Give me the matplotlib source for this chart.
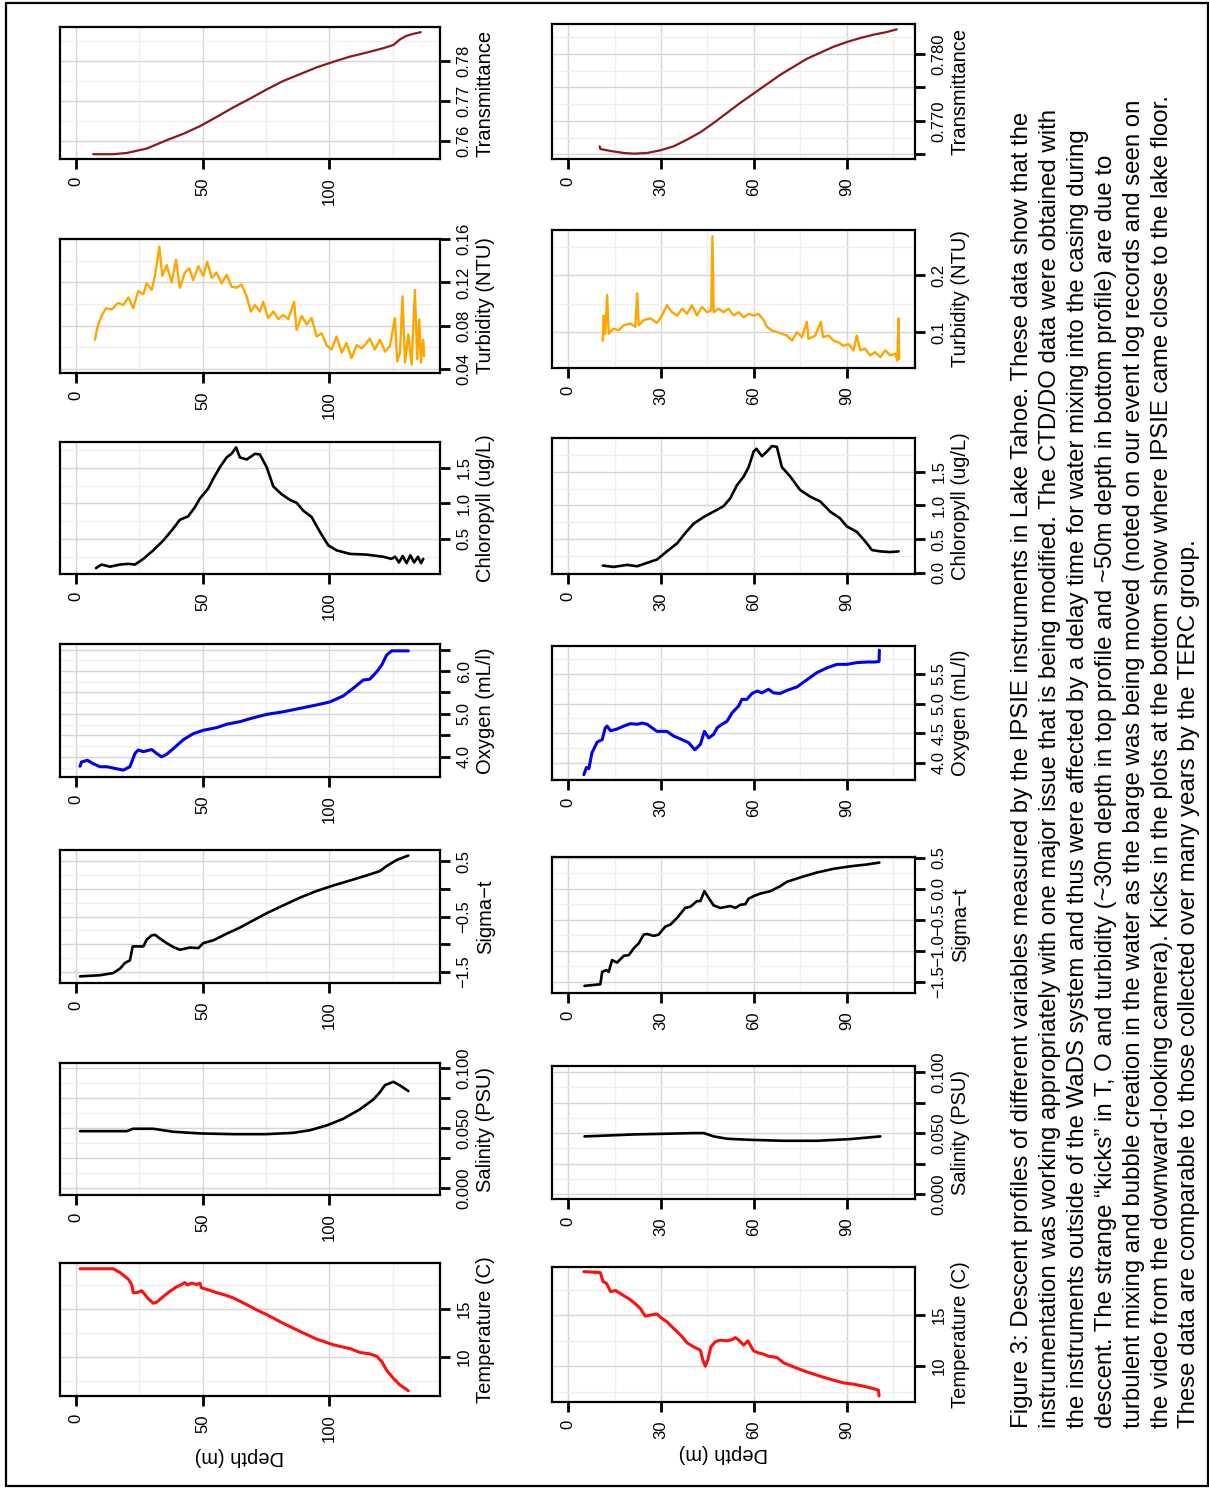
import matplotlib
matplotlib.use("Agg")
import matplotlib.pyplot as plt
import numpy as np
from matplotlib.patches import Rectangle

# ---------------- data (depth in m) ----------------
# top profile
top_temp_depth = [1.6, 14.7, 17.4, 20.7, 22.0, 22.6, 24.0, 26.0, 27.2, 28.6, 30.5, 31.8, 34.5, 37.1,
                  39.7, 41.7, 42.9, 44.1, 45.7, 47.6, 48.9, 49.6, 52.2, 55.5, 59.5, 62.1, 67.4, 71.3,
                  75.3, 81.8, 88.4, 95.0, 101.6, 108.2, 112.1, 116.0, 118.7, 120.7, 122.6, 125.3, 127.9, 131.2]
top_temp = [19.2, 19.2, 18.8, 18.1, 17.55, 16.7, 16.7, 16.9, 16.5, 16.05, 15.6, 15.7, 16.3, 16.85,
            17.3, 17.55, 17.75, 17.5, 17.7, 17.55, 17.7, 17.2, 17.0, 16.7, 16.4, 16.15, 15.45, 14.9,
            14.4, 13.5, 12.65, 11.85, 11.25, 10.85, 10.45, 10.3, 10.05, 9.5, 8.6, 7.75, 7.05, 6.45]

top_sal_depth = [1.6, 20.0, 22.6, 30.5, 38.4, 49.0, 62.0, 75.0, 85.8, 92.4, 99.0, 105.5, 112.0,
                 117.4, 120.0, 122.0, 125.3, 127.9, 131.2]
top_sal = [0.0472, 0.0472, 0.0492, 0.0492, 0.0467, 0.0453, 0.0447, 0.0447, 0.0458, 0.048, 0.052,
           0.0575, 0.0653, 0.0736, 0.0797, 0.0856, 0.0883, 0.0853, 0.0806]

top_sigma_depth = [1.6, 9.5, 14.7, 17.4, 19.3, 21.3, 22.4, 24.0, 26.6, 27.9, 29.9, 31.2, 33.2, 35.8,
                   38.4, 41.0, 43.0, 45.0, 48.3, 50.3, 54.2, 59.5, 64.7, 70.0, 75.3, 81.8, 88.4, 95.0,
                   101.6, 108.2, 114.7, 120.0, 122.6, 126.6, 131.2]
top_sigma = [-1.58, -1.56, -1.52, -1.44, -1.34, -1.29, -1.04, -1.04, -1.04, -0.92, -0.84, -0.83, -0.90,
             -0.98, -1.05, -1.10, -1.08, -1.06, -1.07, -0.98, -0.93, -0.81, -0.70, -0.57, -0.44, -0.30,
             -0.16, -0.04, 0.06, 0.15, 0.24, 0.32, 0.41, 0.52, 0.60]

top_oxy_depth = [1.6, 2.2, 4.5, 6.8, 9.5, 12.1, 15.4, 18.7, 21.3, 23.3, 24.6, 26.6, 29.9, 31.8, 33.8,
                 35.8, 38.4, 42.4, 46.3, 50.3, 55.5, 59.5, 64.7, 70.0, 75.3, 81.8, 88.4, 95.0, 100.3,
                 105.5, 109.5, 113.4, 116.0, 118.7, 120.7, 122.6, 124.6, 127.9, 131.2]
top_oxy = [3.78, 3.88, 3.92, 3.84, 3.77, 3.77, 3.73, 3.69, 3.77, 4.08, 4.16, 4.12, 4.17, 4.08, 4.00,
           4.06, 4.19, 4.40, 4.54, 4.62, 4.68, 4.76, 4.82, 4.91, 4.99, 5.05, 5.13, 5.21, 5.28, 5.42,
           5.60, 5.79, 5.81, 5.98, 6.14, 6.37, 6.47, 6.47, 6.47]

top_chl_depth = [7.9, 10.1, 13.4, 17.4, 20.7, 23.3, 26.6, 30.5, 34.5, 37.8, 41.0, 44.3, 47.0, 48.9,
                 52.2, 54.2, 56.8, 59.5, 61.4, 63.2, 64.7, 67.4, 70.7, 72.6, 75.3, 77.9, 81.2, 84.5,
                 87.1, 89.7, 93.0, 96.3, 99.6, 102.9, 108.2, 114.7, 121.3, 124.5, 126.0, 127.5, 129.0,
                 130.5, 132.0, 133.5, 135.0, 136.2, 137.1]
top_chl = [0.09, 0.14, 0.11, 0.14, 0.15, 0.14, 0.22, 0.34, 0.48, 0.62, 0.77, 0.82, 0.95, 1.07, 1.21,
           1.35, 1.51, 1.65, 1.70, 1.79, 1.65, 1.62, 1.70, 1.69, 1.51, 1.24, 1.13, 1.05, 1.01, 0.90,
           0.81, 0.60, 0.41, 0.34, 0.29, 0.28, 0.25, 0.22, 0.25, 0.17, 0.26, 0.16, 0.27, 0.17, 0.25,
           0.16, 0.22]

top_turb_depth = [7.5, 8.4, 10.1, 11.8, 14.1, 16.7, 18.7, 20.7, 22.6, 24.6, 26.6, 27.9, 29.9, 31.2,
                  32.9, 34.1, 35.8, 37.8, 39.5, 41.0, 43.0, 44.7, 46.3, 48.3, 50.3, 51.8, 53.6, 55.5,
                  57.5, 59.5, 61.4, 63.4, 65.4, 67.4, 69.0, 70.7, 72.6, 73.9, 75.9, 77.9, 79.9, 81.8,
                  83.8, 86.1, 87.1, 89.1, 91.1, 93.0, 95.0, 97.0, 98.9, 100.9, 102.9, 104.9, 106.8,
                  108.8, 110.8, 112.8, 114.7, 116.0, 118.0, 120.0, 122.0, 123.9, 125.9, 126.8, 127.9,
                  128.9, 129.9, 131.2, 132.5, 133.8, 134.7, 135.5, 136.2, 137.1, 137.4]
top_turb = [0.067, 0.078, 0.089, 0.096, 0.095, 0.101, 0.099, 0.106, 0.096, 0.112, 0.109, 0.119, 0.113,
            0.126, 0.153, 0.126, 0.136, 0.120, 0.141, 0.115, 0.129, 0.133, 0.122, 0.135, 0.126, 0.139,
            0.124, 0.129, 0.119, 0.127, 0.116, 0.115, 0.118, 0.107, 0.093, 0.099, 0.093, 0.102, 0.087,
            0.093, 0.086, 0.090, 0.086, 0.102, 0.076, 0.089, 0.081, 0.087, 0.070, 0.073, 0.062, 0.058,
            0.070, 0.055, 0.064, 0.050, 0.062, 0.059, 0.064, 0.068, 0.058, 0.067, 0.056, 0.061, 0.087,
            0.047, 0.055, 0.107, 0.046, 0.072, 0.044, 0.113, 0.049, 0.086, 0.046, 0.067, 0.052]

top_trans_depth = [6.8, 14.7, 20.0, 27.9, 35.8, 42.4, 48.9, 55.5, 62.1, 68.7, 75.3, 81.8, 88.4, 95.0,
                   101.6, 108.2, 114.7, 121.3, 125.3, 127.9, 130.5, 133.2, 136.1]
top_trans = [0.7567, 0.7567, 0.7570, 0.7581, 0.7602, 0.7618, 0.7637, 0.7660, 0.7684, 0.7706, 0.7729,
             0.7750, 0.7767, 0.7784, 0.7798, 0.7811, 0.7821, 0.7832, 0.7840, 0.7854, 0.7863, 0.7868, 0.7872]

# bottom profile
bot_temp_depth = [5.1, 10.4, 11.3, 12.4, 13.7, 15.3, 16.9, 18.5, 20.1, 21.7, 23.3, 24.9, 26.6, 28.7,
                  30.3, 31.9, 33.5, 35.2, 36.8, 38.4, 40.5, 42.7, 43.5, 44.3, 45.1, 46.1, 47.5, 49.1,
                  51.3, 52.9, 54.0, 55.1, 56.7, 58.0, 59.9, 61.5, 63.1, 64.7, 67.4, 69.6, 72.8, 77.1,
                  81.4, 85.7, 88.9, 92.2, 95.4, 98.6, 100.2, 100.4]
bot_temp = [19.25, 19.15, 18.27, 18.1, 17.3, 17.4, 17.1, 16.8, 16.5, 16.1, 15.65, 14.9, 15.0, 15.1,
            14.67, 14.35, 13.86, 13.37, 12.88, 12.29, 11.9, 11.57, 10.59, 10.0, 10.6, 11.9, 12.39, 12.55,
            12.48, 12.6, 12.8, 12.55, 12.06, 12.48, 11.5, 11.3, 11.18, 10.98, 10.85, 10.33, 9.93, 9.44,
            9.02, 8.63, 8.37, 8.24, 8.04, 7.81, 7.65, 7.1]

bot_sal_depth = [5.3, 10.4, 21.2, 31.9, 40.5, 43.8, 47.0, 51.3, 58.8, 69.6, 80.3, 91.1, 100.8]
bot_sal = [0.0473, 0.0478, 0.0489, 0.0495, 0.0500, 0.0500, 0.0473, 0.0454, 0.0445, 0.0437, 0.0437,
           0.0451, 0.0473]

bot_sigma_depth = [5.3, 10.4, 11.0, 12.4, 13.1, 14.2, 15.8, 18.0, 19.6, 21.2, 22.8, 24.4, 25.5, 27.6,
                   29.2, 31.4, 33.0, 35.2, 37.8, 39.5, 41.6, 42.7, 44.0, 45.4, 47.0, 49.1, 52.4, 54.0,
                   55.6, 57.2, 58.3, 59.9, 62.0, 65.3, 68.5, 70.6, 74.9, 80.3, 85.7, 91.1, 96.5, 100.5]
bot_sigma = [-1.565, -1.54, -1.34, -1.31, -1.34, -1.15, -1.19, -1.08, -1.07, -0.96, -0.88, -0.74, -0.73,
             -0.76, -0.74, -0.61, -0.58, -0.47, -0.31, -0.29, -0.20, -0.20, -0.04, -0.15, -0.27, -0.31,
             -0.28, -0.31, -0.26, -0.25, -0.16, -0.12, -0.08, -0.04, 0.04, 0.11, 0.18, 0.26, 0.32, 0.36,
             0.39, 0.42]

bot_oxy_depth = [5.1, 5.9, 6.7, 7.7, 9.4, 11.0, 12.0, 12.6, 13.7, 15.8, 18.0, 20.1, 22.3, 23.9, 25.5,
                 28.7, 31.9, 34.1, 36.8, 38.9, 40.9, 42.7, 44.0, 45.4, 47.0, 48.1, 49.7, 51.3, 52.9,
                 55.1, 56.1, 57.7, 59.4, 61.0, 62.6, 64.7, 66.3, 68.5, 70.6, 73.9, 77.1, 80.3, 83.5,
                 86.8, 90.0, 93.2, 96.5, 99.1, 100.4, 100.5]
bot_oxy = [3.80, 3.92, 3.90, 4.17, 4.35, 4.39, 4.59, 4.62, 4.54, 4.57, 4.62, 4.66, 4.65, 4.67, 4.65,
           4.53, 4.53, 4.45, 4.39, 4.34, 4.22, 4.31, 4.53, 4.42, 4.48, 4.59, 4.65, 4.70, 4.84, 4.96,
           5.07, 5.07, 5.17, 5.21, 5.18, 5.24, 5.18, 5.17, 5.22, 5.28, 5.40, 5.52, 5.60, 5.66, 5.66,
           5.69, 5.70, 5.70, 5.71, 5.90]

bot_chl_depth = [11.2, 14.7, 19.0, 22.3, 25.5, 28.7, 31.9, 35.2, 37.8, 40.5, 43.8, 47.0, 50.2, 52.4,
                 54.5, 56.7, 58.3, 59.9, 60.8, 62.6, 64.2, 65.8, 67.4, 69.0, 71.7, 74.9, 78.2, 81.4,
                 84.6, 87.8, 90.0, 93.2, 95.9, 98.1, 100.8, 104.0, 106.7]
bot_chl = [0.11, 0.09, 0.12, 0.10, 0.15, 0.20, 0.32, 0.44, 0.59, 0.73, 0.83, 0.91, 0.99, 1.11, 1.30,
           1.43, 1.57, 1.80, 1.84, 1.73, 1.80, 1.88, 1.87, 1.57, 1.43, 1.23, 1.13, 1.06, 0.91, 0.81,
           0.69, 0.61, 0.47, 0.34, 0.32, 0.31, 0.32]

bot_turb_depth = [11.2, 11.5, 12.0, 12.6, 13.1, 14.7, 16.3, 18.0, 20.1, 21.7, 22.3, 22.8, 24.4, 26.6,
                  28.7, 30.3, 31.9, 33.5, 35.2, 36.8, 38.4, 40.0, 41.6, 43.2, 44.8, 46.2, 46.6, 47.0,
                  48.6, 50.2, 51.8, 53.4, 55.1, 56.7, 58.3, 59.9, 61.5, 63.1, 64.2, 65.8, 67.4, 69.0,
                  70.6, 72.3, 73.9, 75.5, 77.1, 77.6, 79.8, 81.6, 82.3, 84.1, 85.7, 87.3, 88.9, 90.5,
                  92.2, 93.2, 94.3, 95.9, 97.5, 99.1, 100.8, 102.4, 104.0, 105.6, 106.3, 106.7, 106.9]
bot_turb = [0.085, 0.129, 0.097, 0.165, 0.097, 0.106, 0.103, 0.112, 0.115, 0.109, 0.168, 0.112, 0.121,
            0.124, 0.116, 0.129, 0.147, 0.135, 0.129, 0.141, 0.132, 0.147, 0.129, 0.144, 0.135, 0.138,
            0.268, 0.135, 0.141, 0.135, 0.141, 0.129, 0.135, 0.126, 0.132, 0.129, 0.132, 0.121, 0.109,
            0.103, 0.100, 0.097, 0.094, 0.085, 0.100, 0.091, 0.118, 0.088, 0.094, 0.118, 0.091, 0.094,
            0.085, 0.082, 0.076, 0.079, 0.068, 0.094, 0.068, 0.071, 0.059, 0.065, 0.056, 0.068, 0.059,
            0.062, 0.050, 0.124, 0.053]

bot_trans_depth = [10.2, 10.4, 13.7, 18.0, 21.2, 25.5, 29.8, 34.1, 38.4, 42.7, 47.0, 51.3, 55.6, 59.9,
                   64.2, 68.5, 72.8, 77.1, 81.4, 85.7, 90.0, 94.3, 98.6, 102.9, 106.1]
bot_trans = [0.7662, 0.7658, 0.7655, 0.7652, 0.7651, 0.7652, 0.7656, 0.7662, 0.7672, 0.7683, 0.7697,
             0.7712, 0.7727, 0.7741, 0.7755, 0.7769, 0.7781, 0.7793, 0.7802, 0.7811, 0.7818, 0.7824,
             0.7829, 0.7833, 0.7837]

# axis labels / ticks
var_labels = ["Transmittance", "Turbidity (NTU)", "Chloropyll (ug/L)", "Oxygen (mL/l)",
              "Sigma\u2212t", "Salinity (PSU)", "Temperature (C)"]
top_depth_ticks = [0, 50, 100]
bot_depth_ticks = [0, 30, 60, 90]

caption_lines = [
    "Figure 3: Descent profiles of different variables measured by the IPSIE instruments in Lake Tahoe. These data show that the",
    "instrumentation was working appropriately with one major issue that is being modified. The CTD/DO data were obtained with",
    "the instruments outside of the WaDS system and thus were affected by a delay time for water mixing into the casing during",
    "descent. The strange \u201ckicks\u201d in T, O and turbidity (~30m depth in top profile and ~50m depth in bottom profile) are due to",
    "turbulent mixing and bubble creation in the water as the barge was being moved (noted on our event log records and seen on",
    "the video from the downward-looking camera). Kicks in the plots at the bottom show where IPSIE came close to the lake floor.",
    "These data are comparable to those collected over many years by the TERC group.",
]

plt.rcParams["font.family"] = ["Liberation Sans", "DejaVu Sans"]
TICK, LAB, CAP = 12, 14.5, 17.3

# ---------------- layout (pixels of the 1209x1489 page) ----------------
W, H = 1209, 1489
fig = plt.figure(figsize=(W / 100, H / 100), dpi=100)


def rect(x0, x1, y0, y1):
    return [x0 / W, 1 - y1 / H, (x1 - x0) / W, (y1 - y0) / H]


def panel(r, depth, vals, color, lw, xlim, xticks, ylim, yticks, ytl, ylabel, xlabel=None):
    ax = fig.add_axes(r)
    ax.plot(depth, vals, color=color, lw=lw, solid_joinstyle="round", solid_capstyle="round")
    xs = xticks[1] - xticks[0]
    ys = yticks[1] - yticks[0]
    ax.set_xticks(xticks)
    ax.set_xticklabels([str(t) for t in xticks], rotation=90)
    ax.set_xticks(np.arange(xticks[0] - xs / 2, xlim[1], xs), minor=True)
    ax.set_yticks(yticks)
    ax.set_yticks(np.arange(yticks[0] - ys / 2, ylim[1], ys), minor=True)
    ax.set_xlim(xlim)
    ax.set_ylim(ylim)
    ax.yaxis.tick_right()
    ax.set_yticklabels(ytl, rotation=90, va="center")
    ax.tick_params(which="major", direction="out", length=7, width=2, labelsize=TICK, color="black")
    ax.tick_params(axis="x", which="major", pad=6)
    ax.tick_params(axis="y", which="major", pad=5)
    ax.tick_params(which="minor", length=0)
    ax.set_axisbelow(True)
    ax.grid(which="major", color="#d6d6d6", lw=1.0)
    ax.grid(which="minor", color="#efefef", lw=1.0)
    for s in ax.spines.values():
        s.set_linewidth(1.6)
    ax.yaxis.set_label_position("right")
    ax.set_ylabel(ylabel, rotation=90, fontsize=LAB, labelpad=3)
    if xlabel:
        ax.set_xlabel(xlabel, rotation=180, fontsize=LAB, labelpad=4)
        ax.xaxis.label.set_x(0.472)
    return ax


colors = ["#8b1a1a", "#ffa500", "black", "#0000ee", "black", "black", "#ff1010"]
widths = [1.6, 1.7, 1.9, 2.2, 1.9, 1.9, 2.2]

# top profile column
top_x = (60, 440)
top_rows = [(27, 159), (239, 373), (442, 574), (644, 777), (850, 983), (1063, 1195), (1263, 1396)]
top_xlim = (-6.3, 143.7)
top_series = [(top_trans_depth, top_trans), (top_turb_depth, top_turb), (top_chl_depth, top_chl),
              (top_oxy_depth, top_oxy), (top_sigma_depth, top_sigma), (top_sal_depth, top_sal),
              (top_temp_depth, top_temp)]
top_axes = [
    ((0.7555, 0.7885), [0.76, 0.77, 0.78], ["0.76", "0.77", "0.78"]),
    ((0.0363, 0.16), [0.04, 0.08, 0.12, 0.16], ["0.04", "0.08", "0.12", "0.16"]),
    ((0.007, 1.866), [0.5, 1.0, 1.5], ["0.5", "1.0", "1.5"]),
    ((3.53, 6.63), [4.0, 4.5, 5.0, 5.5, 6.0, 6.5], ["4.0", "", "5.0", "", "6.0", ""]),
    ((-1.70, 0.70), [-1.5, -1.0, -0.5, 0.0, 0.5], ["\u22121.5", "", "\u22120.5", "", "0.5"]),
    ((-0.006, 0.104), [0.0, 0.025, 0.05, 0.075, 0.1], ["0.000", "", "0.050", "", "0.100"]),
    ((5.9, 19.8), [10, 15], ["10", "15"]),
]

# bottom profile column
bot_x = (552, 915)
bot_rows = [(24, 159), (230, 368), (438, 574), (646, 780), (857, 993), (1066, 1199), (1267, 1402)]
bot_xlim = (-5.2, 112.0)
bot_series = [(bot_trans_depth, bot_trans), (bot_turb_depth, bot_turb), (bot_chl_depth, bot_chl),
              (bot_oxy_depth, bot_oxy), (bot_sigma_depth, bot_sigma), (bot_sal_depth, bot_sal),
              (bot_temp_depth, bot_temp)]
bot_axes = [
    ((0.7643, 0.7845), [0.765, 0.770, 0.775, 0.780], ["", "0.770", "", "0.780"]),
    ((0.037, 0.279), [0.1, 0.2], ["0.1", "0.2"]),
    ((-0.015, 2.0), [0.0, 0.5, 1.0, 1.5], ["0.0", "0.5", "1.0", "1.5"]),
    ((3.71, 5.97), [4.0, 4.5, 5.0, 5.5], ["4.0", "4.5", "5.0", "5.5"]),
    ((-1.68, 0.51), [-1.5, -1.0, -0.5, 0.0, 0.5], ["\u22121.5", "\u22121.0", "\u22120.5", "0.0", "0.5"]),
    ((-0.004, 0.105), [0.0, 0.025, 0.05, 0.075, 0.1], ["0.000", "", "0.050", "", "0.100"]),
    ((6.5, 19.7), [10, 15], ["10", "15"]),
]

for xs, rows, xlim, dticks, series, axes_spec in [
        (top_x, top_rows, top_xlim, top_depth_ticks, top_series, top_axes),
        (bot_x, bot_rows, bot_xlim, bot_depth_ticks, bot_series, bot_axes)]:
    for i in range(7):
        d, v = series[i]
        ylim, yt, ytl = axes_spec[i]
        panel(rect(xs[0], xs[1], rows[i][0], rows[i][1]), d, v, colors[i], widths[i],
              xlim, dticks, ylim, yt, ytl, var_labels[i],
              xlabel="Depth (m)" if i == 6 else None)

# caption, written sideways like the page
cap_x = [1028, 1056, 1084, 1112, 1140, 1168, 1195]
for xb, line in zip(cap_x, caption_lines):
    fig.text(xb / W, 1 - 1428 / H, line, rotation=90, rotation_mode="anchor",
             ha="left", va="baseline", fontsize=CAP)

# page border
fig.add_artist(Rectangle((6 / W, 1 - 1486 / H), (1208 - 6) / W, (1486 - 3) / H,
                         transform=fig.transFigure, fill=False, lw=1.6, ec="black"))

fig.savefig("out.png", dpi=100, facecolor="white")
